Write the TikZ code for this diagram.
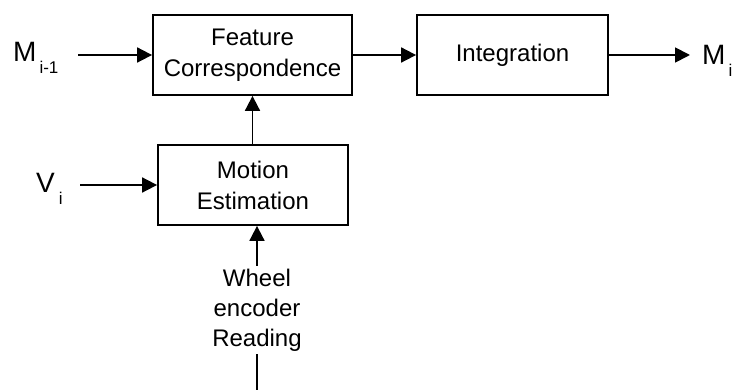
\documentclass[tikz,border=0pt]{standalone}
\usepackage{fontspec}
\setmainfont{Liberation Sans}
\usetikzlibrary{arrows.meta}
\tikzset{
  block/.style={draw, line width=1.8pt, rectangle, inner sep=0pt, align=center,
    font=\fontsize{24}{31}\selectfont},
  flow/.style={line width=1.8pt, -{Triangle[length=15pt,width=15pt]}},
  plain/.style={line width=1.8pt},
  sym/.style={inner sep=0pt, anchor=base west, font=\fontsize{28}{28}\selectfont},
  caption/.style={align=center, inner xsep=0pt, inner ysep=3pt, font=\fontsize{24}{30}\selectfont}
}
\newcommand{\subtxt}[1]{\raisebox{-12pt}{\fontsize{17}{17}\selectfont #1}}
\begin{document}
\begin{tikzpicture}[x=1pt,y=-1pt]
  \useasboundingbox (0,0) rectangle (734,390);

  % processing blocks
  \node[block, minimum width=199pt, minimum height=80pt] (feat) at (252.5,55) {\raisebox{-2pt}{Feature}\\\raisebox{-2pt}{Correspondence}};
  \node[block, minimum width=191pt, minimum height=80pt] (integ) at (512.5,55) {Integration};
  \node[block, minimum width=190pt, minimum height=80pt] (motion) at (253,185) {Motion\\Estimation};

  % input and output symbols
  \node[sym] (mprev) at (13,62) {M\kern3pt\subtxt{i-1}};
  \node[sym] (mnext) at (702,65) {M\kern3pt\subtxt{i}};
  \node[sym] (vin) at (36,193) {V\kern4pt\subtxt{i}};

  % odometry input
  \node[caption] (wheel) at (257,310) {Wheel\\encoder\\Reading};

  % free line ends
  \coordinate (mprevend) at (78,55);
  \coordinate (mnextend) at (690,55);
  \coordinate (vinend) at (80,185);
  \coordinate (foot) at (257,390);

  % connectors
  \draw[flow] (mprevend) -- (feat.west);
  \draw[flow] (feat.east) -- (integ.west |- feat.east);
  \draw[flow] (integ.east |- feat.east) -- (mnextend);
  \draw[flow] (vinend) -- (motion.west);
  \draw[flow] (motion.north -| feat.south) -- (feat.south);
  \draw[flow] (wheel.north) -- (wheel.north |- motion.south);
  \draw[plain] (wheel.south) -- (foot);
\end{tikzpicture}
\end{document}
